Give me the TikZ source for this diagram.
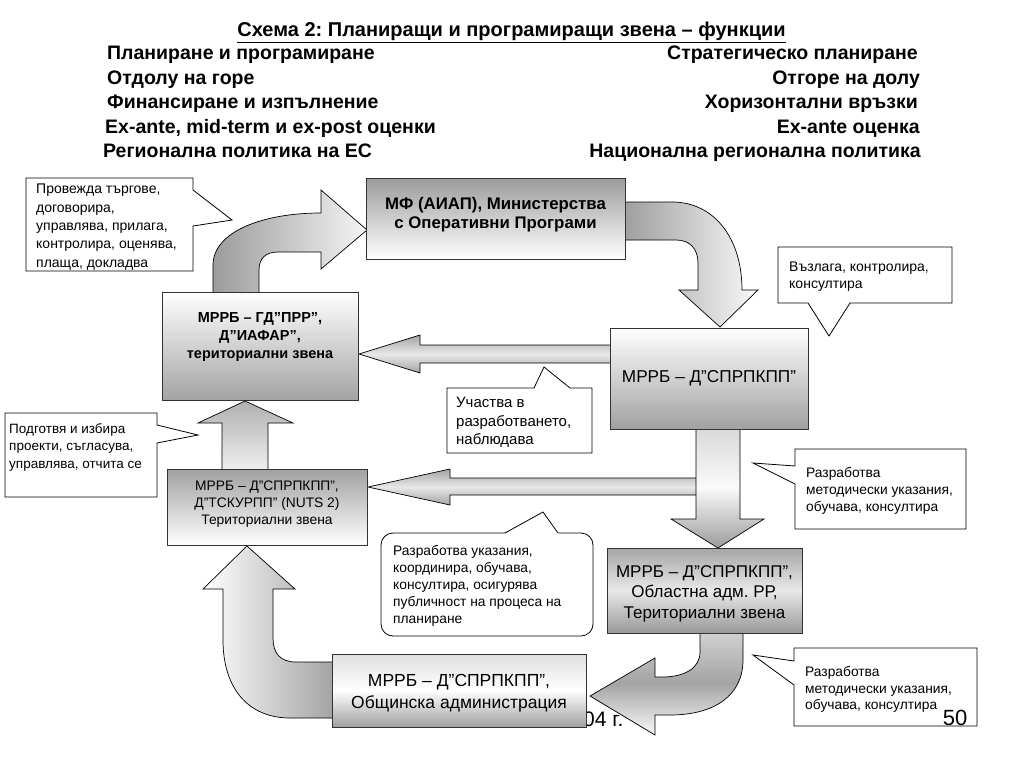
\documentclass[tikz,border=0pt]{standalone}
\usepackage{fontspec}
\setmainfont{Liberation Sans}
\begin{document}
\frenchspacing
\begin{tikzpicture}[x=1pt,y=-1pt,
  hdr/.style={font=\fontsize{19.5}{23}\selectfont\bfseries, inner sep=0pt},
  boxstyle/.style={draw=black!80, line width=0.8pt, inner sep=0pt},
  arr/.style={draw=black, line width=0.7pt},
  co/.style={draw=black, fill=white, line width=0.8pt},
  cotext/.style={align=left, inner sep=0pt, anchor=north west, font=\fontsize{13.8}{17.8}\selectfont},
  btext/.style={align=center, inner sep=0pt},
  hshade/.style={top color=gray!72, bottom color=gray!72, middle color=gray!18}
]
\useasboundingbox (0,0) rectangle (1024,768);
\fill[white] (0,0) rectangle (1024,768);

% ---------- header ----------
\node[hdr, font=\fontsize{20}{23}\selectfont\bfseries, anchor=base] (title) at (511.5,37) {\underline{Схема 2: Планиращи и програмиращи звена – функции}};
\node[hdr, anchor=base west] (l1) at (107,59.5) {Планиране и програмиране};
\node[hdr, anchor=base west] (l2) at (107,84) {Отдолу на горе};
\node[hdr, anchor=base west] (l3) at (107,108.5) {Финансиране и изпълнение};
\node[hdr, anchor=base west] (l4) at (105,133) {Ex-ante, mid-term и ex-post оценки};
\node[hdr, anchor=base west] (l5) at (103,157.5) {Регионална политика на ЕС};
\node[hdr, anchor=base east] (r1) at (918,59.5) {Стратегическо планиране};
\node[hdr, anchor=base east] (r2) at (920,84) {Отгоре на долу};
\node[hdr, anchor=base east] (r3) at (918,108.5) {Хоризонтални връзки};
\node[hdr, anchor=base east] (r4) at (920,133) {Ex-ante оценка};
\node[hdr, anchor=base east] (r5) at (921,157.5) {Национална регионална политика};

% ---------- block arrows ----------
% a: GD -> MF
\draw[arr, left color=gray!78, right color=gray!8]
  (213,294) -- (213,265) .. controls (213,232) and (262,213) .. (321,213)
  -- (321,190) -- (367,230) -- (321,269) -- (321,252) -- (278,252)
  .. controls (266,252) and (259,258) .. (259,270) -- (259,294) -- cycle;
% b: MF -> SPRPKPP
\draw[arr, left color=gray!78, right color=gray!5]
  (620,202) -- (672,202) .. controls (714,202) and (742,238) .. (742,290)
  -- (758,290) -- (720,327) -- (679,290) -- (698,290) -- (698,263)
  .. controls (698,249) and (690,240) .. (676,240) -- (620,240) -- cycle;
% c: SPRPKPP -> GD
\draw[arr, hshade]
  (612,345) -- (420,345) -- (420,335) -- (359,354) -- (420,373) -- (420,363) -- (612,363) -- cycle;
% e: -> TSKURPP
\draw[arr, hshade]
  (698,478) -- (450,478) -- (450,469) -- (368,487) -- (450,505) -- (450,495) -- (698,495) -- cycle;
% d: SPRPKPP -> Oblastna
\draw[arr, top color=gray!30, bottom color=gray!78, middle color=gray!4]
  (696,427) -- (696,519) -- (671,519) -- (718,548) -- (764,519) -- (740,519) -- (740,427) -- cycle;
% f: TSKURPP -> GD
\draw[arr, top color=gray!62, bottom color=gray!12]
  (222,471) -- (222,423) -- (198,423) -- (245,401) -- (293,423) -- (268,423) -- (268,471) -- cycle;
% g: Obshtinska -> TSKURPP
\draw[arr, left color=white, right color=gray!72]
  (334,718) -- (290,718) .. controls (248,718) and (223,688) .. (223,640)
  -- (223,589) -- (203,589) -- (247,546) -- (295,589) -- (273,589) -- (273,638)
  .. controls (273,653) and (280,662) .. (296,662) -- (334,662) -- cycle;
% h: Oblastna -> Obshtinska
\draw[arr, top color=gray!35, bottom color=gray!5, middle color=gray!72]
  (700,631) -- (700,652) .. controls (700,668) and (685,677) .. (662,677)
  -- (655,677) -- (655,658) -- (590,696) -- (655,735) -- (655,715) -- (670,715)
  .. controls (715,715) and (743,695) .. (743,660) -- (743,631) -- cycle;

\node[anchor=west, inner sep=0pt, font=\fontsize{21}{24}\selectfont] (year) at (583,719) {04 г.};

% ---------- boxes ----------
\node[boxstyle, top color=gray!78, bottom color=white, minimum width=259pt, minimum height=81pt] (mf) at (495.5,218.5) {};
\node[btext, font=\fontsize{16.8}{19.5}\selectfont\bfseries] (mft) at ([yshift=4pt]mf.center) {МФ (АИАП), Министерства\\с Оперативни Програми};

\node[boxstyle, top color=white, bottom color=gray!72, minimum width=196pt, minimum height=108pt] (gd) at (260,346) {};
\node[btext, font=\fontsize{14.5}{18}\selectfont\bfseries] (gdt) at ([yshift=9pt]gd.center) {МРРБ – ГД”ПРР”,\\Д”ИАФАР”,\\териториални звена};

\node[boxstyle, top color=white, bottom color=gray!74, minimum width=198pt, minimum height=101pt] (sp) at (709,378.5) {};
\node[btext, font=\fontsize{17.2}{20}\selectfont] (spt) at (sp.center) {МРРБ – Д”СПРПКПП”};

\node[boxstyle, top color=gray!74, bottom color=white, minimum width=200pt, minimum height=76pt] (ts) at (267,507) {};
\node[btext, font=\fontsize{13.8}{17}\selectfont] (tst) at ([yshift=3pt]ts.center) {МРРБ – Д"СПРПКПП",\\Д"ТСКУРПП" (NUTS 2)\\Териториални звена};

\node[boxstyle, top color=gray!70, bottom color=gray!80, middle color=gray!18, minimum width=195pt, minimum height=85pt] (ob) at (704.5,590.5) {};
\node[btext, font=\fontsize{17}{20.5}\selectfont] (obt) at ([yshift=-3pt]ob.center) {МРРБ – Д”СПРПКПП”,\\Областна адм. РР,\\Териториални звена};

\node[boxstyle, top color=gray!25, bottom color=gray!75, middle color=white, minimum width=254pt, minimum height=73pt] (mu) at (459,690.5) {};
\node[btext, font=\fontsize{17.5}{22}\selectfont] (mut) at ([yshift=-2.5pt]mu.center) {МРРБ – Д”СПРПКПП”,\\Общинска администрация};

% ---------- callouts ----------
\draw[co] (26,178) -- (193,178) -- (193,190) -- (232,220) -- (193,226) -- (193,271) -- (26,271) -- cycle;
\node[cotext, font=\fontsize{14}{18.3}\selectfont] (ca) at (36,184) {Провежда търгове,\\договорира,\\управлява, прилага,\\контролира, оценява,\\плаща, докладва};

\draw[co] (778,247) -- (952,247) -- (952,303) -- (850,303) -- (829,336) -- (808,303) -- (778,303) -- cycle;
\node[cotext, font=\fontsize{14}{16.8}\selectfont] (cb) at (789,262) {Възлага, контролира,\\консултира};

\draw[co] (447,388) -- (534,388) -- (544,367) -- (570,388) -- (592,388) -- (592,453) -- (447,453) -- cycle;
\node[cotext, font=\fontsize{15}{18.5}\selectfont] (cc) at (456,397) {Участва в\\разработването,\\наблюдава};

\draw[co] (5,413) -- (157,413) -- (157,425) -- (198,435) -- (157,443) -- (157,497) -- (5,497) -- cycle;
\node[cotext, font=\fontsize{13.5}{17.5}\selectfont] (cd) at (9,423) {Подготвя и избира\\проекти, съгласува,\\управлява, отчита се};

\draw[co] (795,449) -- (966,449) -- (966,529) -- (795,529) -- (795,484) -- (753,463) -- (795,466) -- cycle;
\node[cotext, font=\fontsize{13.8}{17.2}\selectfont] (ce) at (806,467) {Разработва\\методически указания,\\обучава, консултира};

\draw[co] (794,648) -- (977,648) -- (977,726) -- (794,726) -- (794,685) -- (753,655) -- (794,661) -- cycle;
\node[cotext, font=\fontsize{13.8}{16.8}\selectfont] (cf) at (805,666) {Разработва\\методически указания,\\обучава, консултира};

\draw[co, rounded corners=12pt] (381,533) rectangle (593,636);
\fill[white] (504,534.2) -- (543,512) -- (559,534.2) -- cycle;
\draw[black, line width=0.8pt] (505,533) -- (543,512) -- (558,533);
\node[cotext, font=\fontsize{13.8}{17}\selectfont] (cg) at (393,545) {Разработва указания,\\координира, обучава,\\консултира, осигурява\\публичност на процеса на\\планиране};

\node[inner sep=0pt, font=\fontsize{22}{24}\selectfont] (pg) at (955,718) {50};
\end{tikzpicture}
\end{document}
